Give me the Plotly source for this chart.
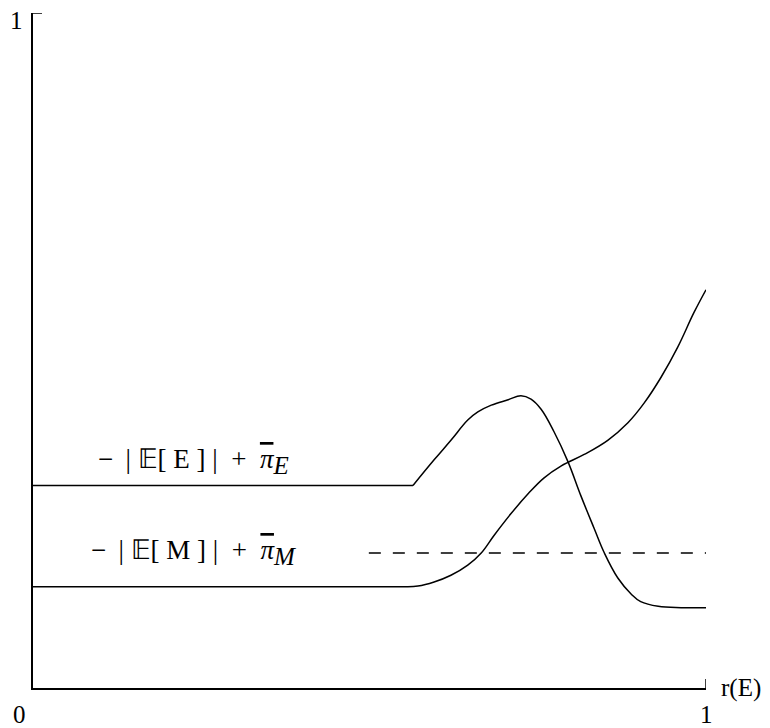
import plotly.graph_objects as go

# Data
e_flat_x = [0.0, 0.5646]
e_flat_y = [0.30, 0.30]
e_curve_x = [0.5646, 0.596, 0.621, 0.646, 0.661, 0.681, 0.706, 0.725, 0.740, 0.755,
             0.774, 0.795, 0.814, 0.834, 0.849, 0.869, 0.889, 0.903, 0.929, 0.963, 1.0]
e_curve_y = [0.30, 0.338, 0.367, 0.397, 0.409, 0.419, 0.427, 0.433, 0.428, 0.413,
             0.380, 0.335, 0.285, 0.236, 0.200, 0.163, 0.139, 0.128, 0.121, 0.119, 0.119]
m_x = [0.0, 0.50, 0.55, 0.572, 0.596, 0.621, 0.646, 0.666, 0.685, 0.710, 0.736, 0.759, 0.785,
       0.819, 0.854, 0.884, 0.908, 0.933, 0.958, 0.982, 1.0]
m_y = [0.15, 0.15, 0.15, 0.151, 0.157, 0.167, 0.182, 0.200, 0.226, 0.258, 0.288, 0.311, 0.329,
       0.346, 0.367, 0.393, 0.422, 0.460, 0.505, 0.556, 0.590]
ref_x = [0.499, 1.0]
ref_y = [0.20, 0.20]

NB = "\u00a0"
TH = "\u2009"
PI_BAR = "<i><span style='text-decoration:overline'>π</span></i>"
def make_label(var):
    return ("−" + NB + TH + "|" + NB + "𝔼[" + NB + var + NB + "]" + NB + "|" + NB * 2 + "+"
            + NB * 2 + PI_BAR + "<sub><span style='font-size:25px'><i>" + var + "</i></span></sub>")
label_e = make_label("E")
label_m = make_label("M")
x_label = "r(E)"

FONT = "Liberation Serif"

fig = go.Figure()
fig.add_trace(go.Scatter(x=e_flat_x, y=e_flat_y, mode="lines",
                         line=dict(color="black", width=1.5), showlegend=False))
fig.add_trace(go.Scatter(x=e_curve_x, y=e_curve_y, mode="lines",
                         line=dict(color="black", width=1.5, shape="spline", smoothing=1.1),
                         showlegend=False))
fig.add_trace(go.Scatter(x=m_x, y=m_y, mode="lines",
                         line=dict(color="black", width=1.5, shape="spline", smoothing=1.1),
                         showlegend=False))
fig.add_trace(go.Scatter(x=ref_x, y=ref_y, mode="lines",
                         line=dict(color="black", width=1.5, dash="12px,12px"),
                         showlegend=False))

ann_font = dict(family=FONT, size=27, color="black")
tick_font = dict(family=FONT, size=25, color="black")
annotations = [
    dict(x=0.2385, y=0.335, xref="x", yref="y", text=label_e, showarrow=False,
         font=ann_font, xanchor="center", yanchor="middle"),
    dict(x=0.2385, y=0.201, xref="x", yref="y", text=label_m, showarrow=False,
         font=ann_font, xanchor="center", yanchor="middle"),
    dict(x=-0.0208, y=-0.039, xref="paper", yref="paper", text="0", showarrow=False,
         font=tick_font, xanchor="center", yanchor="middle"),
    dict(x=-0.0238, y=0.989, xref="paper", yref="paper", text="1", showarrow=False,
         font=tick_font, xanchor="center", yanchor="middle"),
    dict(x=1.0, y=-0.039, xref="paper", yref="paper", text="1", showarrow=False,
         font=tick_font, xanchor="center", yanchor="middle"),
    dict(x=1.052, y=0.0, xref="paper", yref="paper", text=x_label, showarrow=False,
         font=tick_font, xanchor="center", yanchor="middle"),
]

shapes = [
    dict(type="line", xref="x", yref="y", xsizemode="pixel", xanchor=0, x0=0, x1=9,
         y0=1, y1=1, line=dict(color="black", width=1.5)),
    dict(type="line", xref="x", yref="y", ysizemode="pixel", yanchor=0, y0=0, y1=9,
         x0=1, x1=1, line=dict(color="black", width=1.5)),
]

fig.update_layout(
    width=762, height=720,
    margin=dict(l=25, r=64, t=5, b=40),
    paper_bgcolor="white", plot_bgcolor="white",
    annotations=annotations,
    shapes=shapes,
    xaxis=dict(range=[0, 1], showgrid=False, zeroline=False, showline=True,
               linecolor="black", linewidth=1.5, showticklabels=False, ticks=""),
    yaxis=dict(range=[0, 1], showgrid=False, zeroline=False, showline=True,
               linecolor="black", linewidth=1.5, showticklabels=False, ticks=""),
)

fig.write_html("out.html")
